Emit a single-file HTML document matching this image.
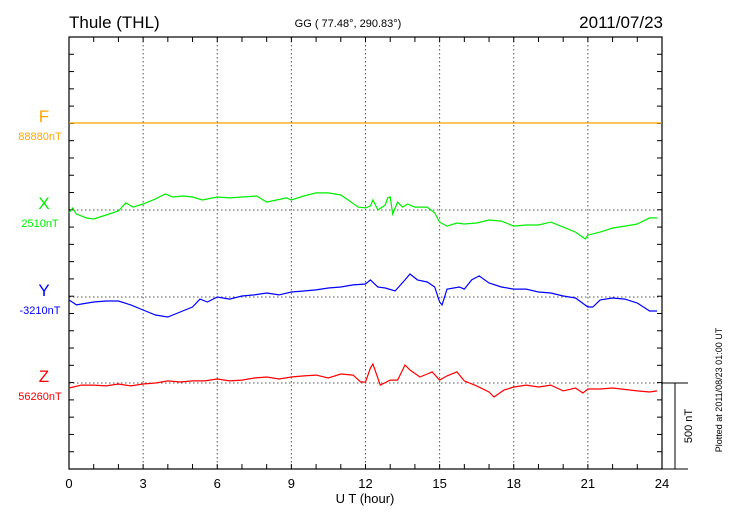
<!DOCTYPE html>
<html><head><meta charset="utf-8"><style>
body{margin:0;background:#fff;}
svg{display:block;font-family:"Liberation Sans",sans-serif;}
</style></head><body>
<svg id="chart" width="730" height="520">
<text x="69" y="28" font-size="17">Thule (THL)</text>
<text x="348" y="27" font-size="11" text-anchor="middle">GG ( 77.48°, 290.83°)</text>
<text x="663" y="28" font-size="17" text-anchor="end">2011/07/23</text>
<text x="365" y="503" font-size="13" text-anchor="middle">U T (hour)</text>
<text transform="translate(722,390) rotate(-90)" font-size="9" text-anchor="middle">Plotted at 2011/08/23 01:00 UT</text>
<g id="g"></g>
</svg>
<script>
const components = ['F','X','Y','Z'];
const baselineLabels = ['88880nT','2510nT','-3210nT','56260nT'];
const xTicks = [0,3,6,9,12,15,18,21,24];
const hoursF = [0,24];
const valuesF = [0,0];
const hoursX = [0,0.15,0.3,0.7,1,1.5,2,2.3,2.6,3,3.5,3.9,4.2,4.6,5,5.4,6,6.5,7,7.6,8,8.4,8.8,9,9.5,10,10.5,11,11.3,11.7,12,12.2,12.3,12.5,12.8,12.9,13.0,13.1,13.3,13.5,13.7,14,14.5,14.8,15,15.3,15.7,16,16.5,17,17.5,18,18.5,19,19.5,20,20.5,20.9,21,21.5,22,22.5,23,23.5,23.8];
const valuesX = [-17,12,-23,-46,-52,-29,-6,41,17,35,64,93,75,81,75,58,75,70,75,81,46,58,70,58,81,99,99,87,58,17,12,23,58,0,29,70,75,-23,46,17,35,17,17,-17,-70,-93,-75,-81,-75,-58,-64,-93,-87,-87,-70,-99,-128,-168,-145,-128,-104,-93,-81,-46,-46];
const hoursY = [0,0.3,1,1.5,2,2.5,3,3.5,4,4.5,5,5.3,5.6,6,6.5,7,7.5,8,8.5,9,9.5,10,10.5,11,11.5,12,12.2,12.5,12.8,13.2,13.6,13.8,14.1,14.5,14.8,15,15.1,15.3,15.8,16,16.3,16.6,17,17.5,18,18.5,19,19.5,20,20.5,21,21.2,21.5,22,22.5,23,23.5,23.8];
const valuesY = [-17,-46,-29,-23,-23,-46,-75,-104,-116,-87,-58,-12,-29,0,-12,6,12,23,12,29,35,41,52,58,70,75,99,58,52,35,99,133,99,87,58,-29,-46,46,58,46,99,122,81,58,46,46,29,23,6,-6,-58,-58,-17,-6,-12,-35,-81,-81];
const hoursZ = [0,0.5,1,1.5,2,2.5,3,3.5,4,4.5,5,5.5,6,6.5,7,7.5,8,8.5,9,9.5,10,10.5,11,11.5,11.8,12,12.2,12.3,12.6,13,13.3,13.6,13.8,14.2,14.5,14.7,15,15.3,15.7,16,16.5,17,17.2,17.6,18,18.5,19,19.5,20,20.5,20.8,21,21.5,22,23,23.5,23.8];
const valuesZ = [-29,-12,-12,-17,-6,-17,-6,0,12,6,12,12,23,12,17,29,35,23,35,41,46,29,52,46,6,6,87,110,-12,17,17,104,75,35,52,64,17,41,64,12,-17,-52,-81,-41,-23,-12,-23,-12,-46,-29,-58,-35,-35,-29,-46,-52,-46];

const NS='http://www.w3.org/2000/svg';
const g=document.getElementById('g');
const L=69,R=662,T=37,B=469;
const baseY=[123,210,297,383];
const colors=['#ffa500','#00ee00','#0000ff','#ff0000'];
const pxPerNT=86.4/500;
const xs=h=>L+(R-L)*h/24;
function mk(t,a){const e=document.createElementNS(NS,t);for(const k in a)e.setAttribute(k,a[k]);g.appendChild(e);return e;}
// grid
xTicks.slice(1,-1).forEach(h=>{const e=mk('line',{x1:xs(h),x2:xs(h),y1:T,y2:B,stroke:'#555','stroke-dasharray':'1.5,2.5','stroke-width':1});

});
baseY.forEach(y=>{const e=mk('line',{x1:L,x2:R,y1:y,y2:y,stroke:'#555','stroke-dasharray':'1.5,2.5','stroke-width':1});

});
// ticks
for(let h=0;h<=24;h++){mk('line',{x1:xs(h),x2:xs(h),y1:T,y2:T+5,stroke:'#000'});mk('line',{x1:xs(h),x2:xs(h),y1:B,y2:B-5,stroke:'#000'});}
for(let i=0;i<=25;i++){const y=T+i*(B-T)/25;mk('line',{x1:L,x2:L+5,y1:y,y2:y,stroke:'#000'});mk('line',{x1:R,x2:R-5,y1:y,y2:y,stroke:'#000'});}
// frame
const fr=mk('rect',{x:L,y:T,width:R-L,height:B-T,fill:'none',stroke:'#000','stroke-width':1.2});


mk('line',{x1:R,x2:688,y1:B,y2:B,stroke:'#000'});
// scale bar
const sb=mk('path',{d:`M${R} 383 H688 M675 383 V${B}`,stroke:'#000',fill:'none'});


const st=mk('text',{transform:'translate(692,426) rotate(-90)','font-size':11,'text-anchor':'middle'});st.textContent='500 nT';


xTicks.forEach(h=>{const t=mk('text',{x:xs(h),y:488,'font-size':13,'text-anchor':'middle'});t.textContent=h;

});
// series
const hs=[hoursF,hoursX,hoursY,hoursZ],vs=[valuesF,valuesX,valuesY,valuesZ];
components.forEach((c,i)=>{
 const d=hs[i].map((h,j)=>(j?'L':'M')+xs(h).toFixed(1)+' '+(baseY[i]-vs[i][j]*pxPerNT).toFixed(1)).join(' ');
 const p=mk('path',{d:d,fill:'none',stroke:colors[i],'stroke-width':1.2});
 
 
 const t1=mk('text',{x:44,y:baseY[i]-1,'font-size':17,'text-anchor':'middle',fill:colors[i]});t1.textContent=c;
 
 
 const t2=mk('text',{x:40,y:baseY[i]+17,'font-size':11,'text-anchor':'middle',fill:colors[i]});t2.textContent=baselineLabels[i];
 
 
});
</script>
</body></html>
